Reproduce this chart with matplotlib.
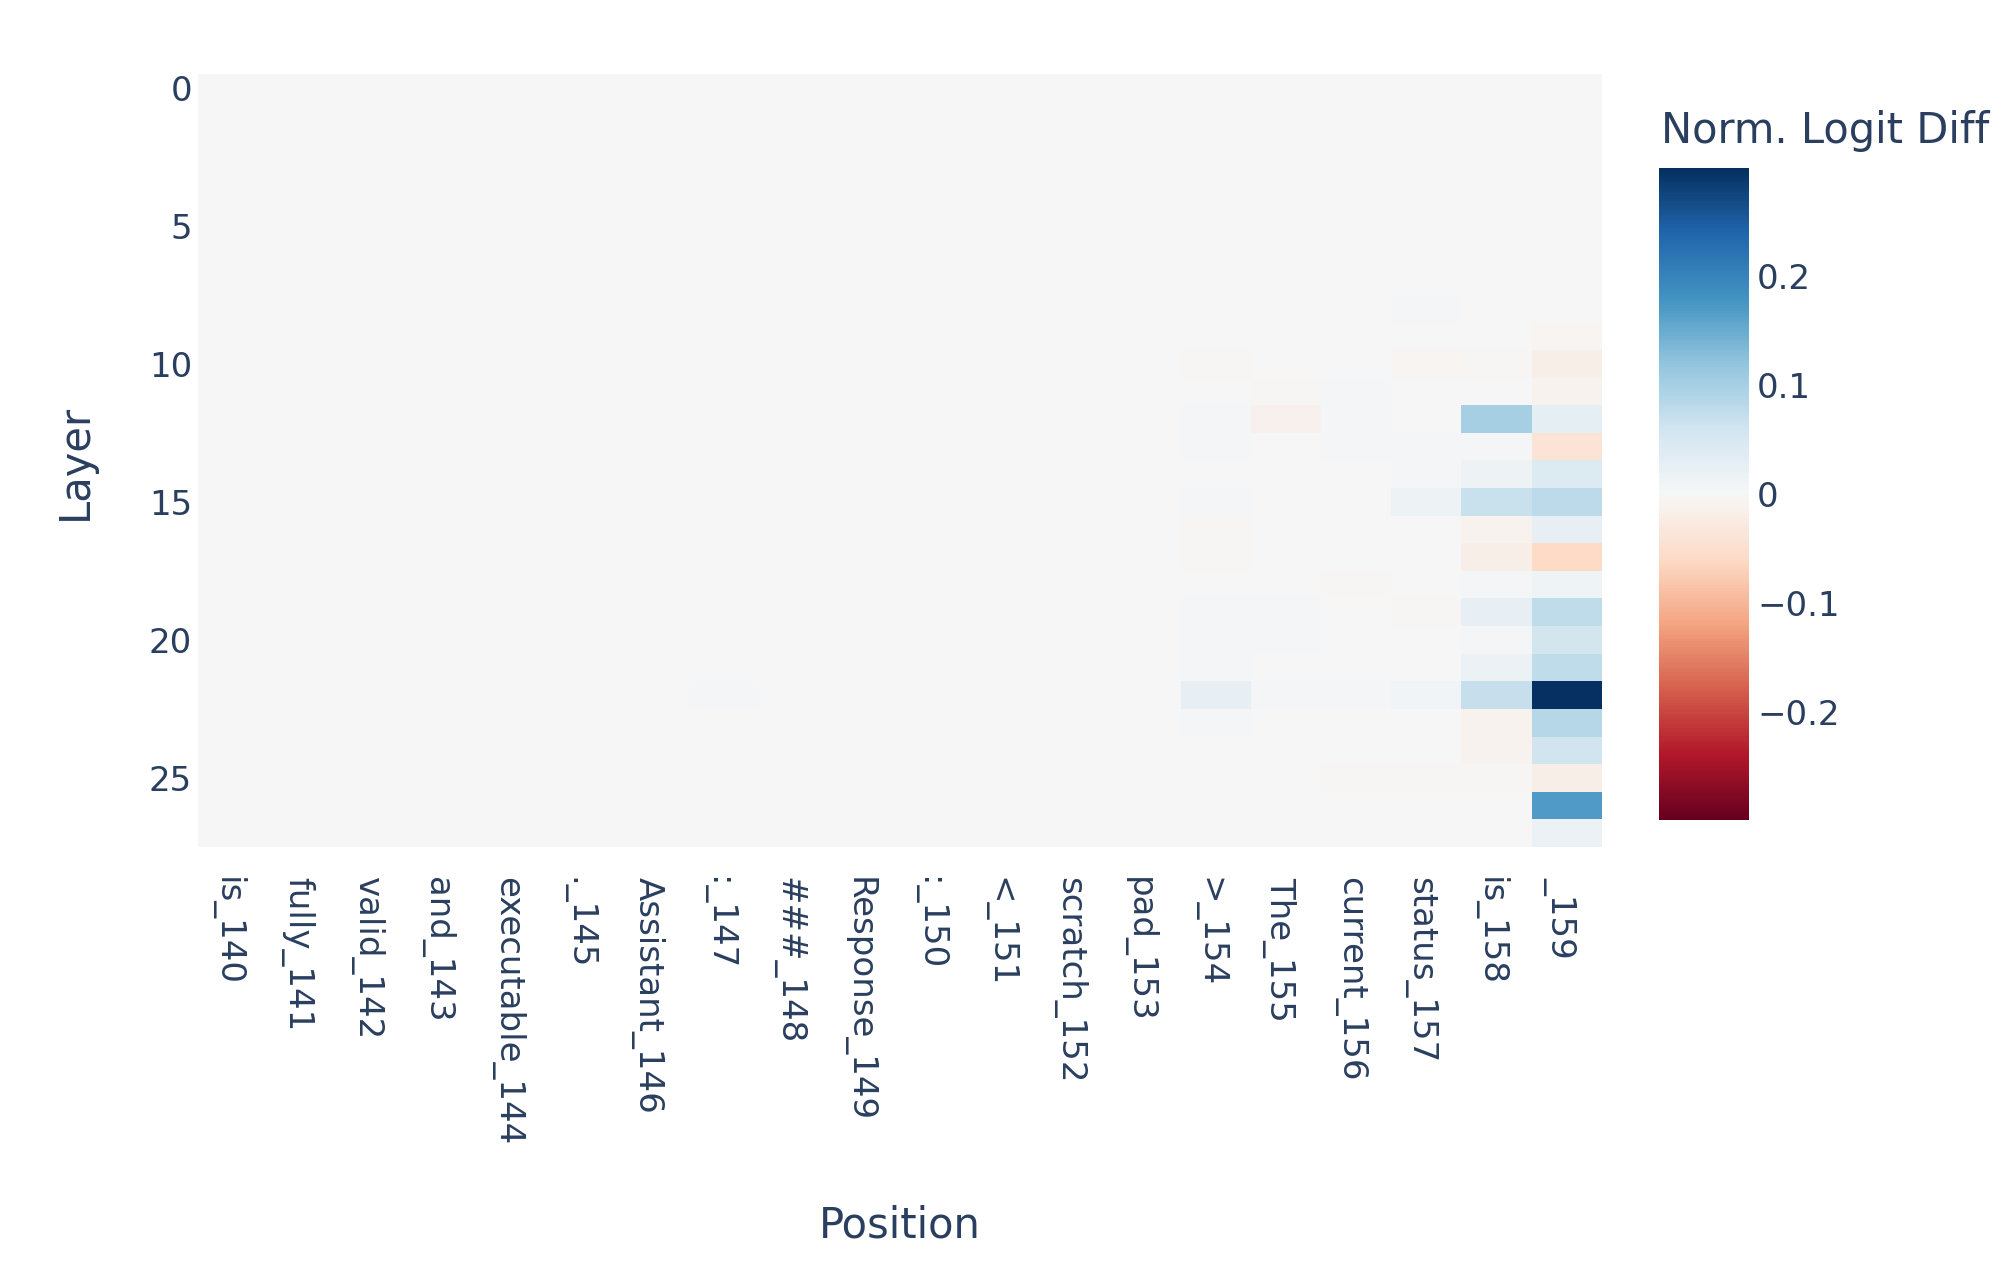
import numpy as np
import matplotlib
matplotlib.use("Agg")
import matplotlib.pyplot as plt
import matplotlib.transforms as mtransforms
from matplotlib.colors import Normalize

# ---------------- data ----------------
positions = ["is_140", "fully_141", "valid_142", "and_143", "executable_144", "._145",
             "Assistant_146", ":_147", "###_148", "Response_149", ":_150", "<_151",
             "scratch_152", "pad_153", ">_154", "The_155", "current_156", "status_157",
             "is_158", "_159"]
layers = list(range(28))

zero_col = [0.0] * 28
col_145 = [0, 0, 0, 0, 0, 0, 0, 0, 0, 0, 0, 0, 0, 0, 0, -0.002, -0.002, 0, 0, 0, -0.002, 0, 0, 0, 0, 0, 0, 0]
col_147 = [0, 0, 0, 0, 0, 0, 0, 0, 0, 0, 0, -0.002, 0, 0, 0, 0, -0.002, -0.001, 0, 0, 0.002, 0, 0.006, 0, 0, 0, 0, 0]
col_150 = [0, 0, 0, 0, 0, 0, 0, 0, 0, 0, 0, 0, 0.001, 0, 0, 0, 0, 0, 0, 0, 0, 0, 0, 0, 0, 0, 0, 0]
col_154 = [0, 0, 0, 0, 0, 0, 0, -0.001, 0.002, 0.002, -0.004, -0.002, 0.004, 0.004, -0.002, 0.006,
           -0.003, -0.003, -0.001, 0.004, 0.004, 0.004, 0.025, 0.004, 0, 0, 0, 0]
col_155 = [0, 0, 0, 0, 0, 0, 0, 0, 0, 0, 0, -0.003, -0.012, -0.002, 0, 0, 0, 0, 0, 0.003, 0.003,
           0, 0.004, 0, 0, 0, 0.002, 0]
col_156 = [0, 0, 0, 0, 0, 0, 0, 0, 0, 0, 0, 0.003, 0.005, 0.003, 0, 0, 0, -0.002, -0.004, 0.002,
           0.002, 0, 0.005, 0, 0.002, -0.004, 0, 0]
col_157 = [0, 0, 0, 0, 0, 0, -0.001, -0.001, 0.004, 0, -0.005, -0.002, 0.002, 0.004, 0.004, 0.015,
           -0.002, -0.002, 0, -0.003, 0, 0.002, 0.008, 0, 0, -0.003, 0, 0]
col_158 = [0, 0, 0, 0, 0, 0, 0, 0, 0.002, 0.002, -0.004, -0.002, 0.100, 0.006, 0.015, 0.066,
           -0.010, -0.018, 0.006, 0.025, 0.006, 0.017, 0.069, -0.010, -0.010, -0.004, 0.002, 0.002]
col_159 = [0, 0, 0, 0, 0, 0, 0, 0, 0, -0.005, -0.018, -0.010, 0.030, -0.040, 0.040, 0.078,
           0.025, -0.060, 0.014, 0.075, 0.055, 0.075, 0.299, 0.086, 0.060, -0.018, 0.170, 0.017]

columns = [zero_col, zero_col, zero_col, zero_col, zero_col, col_145, zero_col, col_147,
           zero_col, zero_col, col_150, zero_col, zero_col, zero_col, col_154, col_155,
           col_156, col_157, col_158, col_159]

z = np.array(columns, dtype=float).T  # rows = layers, cols = positions
zmax = np.abs(z).max()

# ---------------- style ----------------
TEXT = "#2a3f5f"
plt.rcParams["font.family"] = ["DejaVu Sans"]

fig = plt.figure(figsize=(20.13, 12.62), dpi=100)
ax = fig.add_axes([0.0982, 0.3285, 0.6971, 0.6125])

im = ax.imshow(z, cmap="RdBu", norm=Normalize(vmin=-zmax, vmax=zmax),
               aspect="auto", interpolation="nearest")

for s in ax.spines.values():
    s.set_visible(False)

ax.set_yticks([0, 5, 10, 15, 20, 25])
ax.set_yticklabels(["0", "5", "10", "15", "20", "25"])
ax.set_xticks(range(len(positions)))
ax.set_xticklabels(positions, rotation=-90, ha="center", va="top")
ax.tick_params(axis="both", length=0, labelsize=24.5, labelcolor=TEXT)
ax.tick_params(axis="y", pad=4)
ax.tick_params(axis="x", pad=21)

shift = mtransforms.ScaledTranslation(-0.06, 0, fig.dpi_scale_trans)
for lbl in ax.get_xticklabels():
    lbl.set_transform(lbl.get_transform() + shift)

fig.text(0.0373, 0.634, "Layer", rotation=90, ha="center", va="center",
         fontsize=30, color=TEXT)
fig.text(0.4471, 0.0293, "Position", ha="center", va="center",
         fontsize=30, color=TEXT)

cax = fig.add_axes([0.8241, 0.3505, 0.0447, 0.5164])
cb = fig.colorbar(im, cax=cax)
cb.outline.set_visible(False)
cb.set_ticks([-0.2, -0.1, 0, 0.1, 0.2])
cb.set_ticklabels(["\u22120.2", "\u22120.1", "0", "0.1", "0.2"])
cax.tick_params(length=0, labelsize=24.5, labelcolor=TEXT, pad=6)

fig.text(0.8252, 0.896, "Norm. Logit Diff", ha="left", va="center",
         fontsize=30, color=TEXT)

fig.savefig("out.png", dpi=100, facecolor="white")
